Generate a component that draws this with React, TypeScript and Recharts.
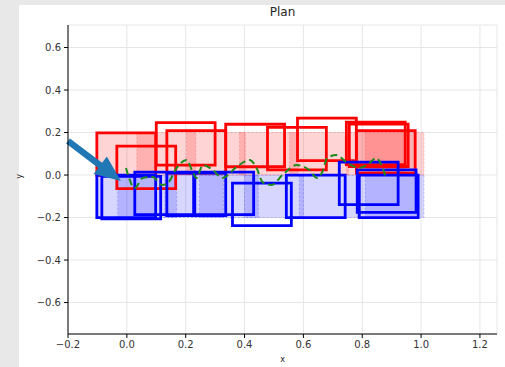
import React from "react";
import {
  CartesianGrid,
  ComposedChart,
  Line,
  ReferenceArea,
  ReferenceLine,
  XAxis,
  YAxis,
} from "recharts";

// lower-left corners of the 0.2 x 0.2 plan boxes
const redBoxX = [-0.102, -0.034, 0.1, 0.136, 0.336, 0.478, 0.58, 0.746, 0.756, 0.78];
const redBoxY = [-0.002, -0.064, 0.047, 0.009, 0.039, 0.024, 0.068, 0.049, 0.04, 0.009];
const blueBoxX = [-0.102, -0.085, 0.027, 0.136, 0.231, 0.359, 0.542, 0.722, 0.783, 0.79];
const blueBoxY = [-0.2, -0.206, -0.186, -0.191, -0.186, -0.238, -0.2, -0.139, -0.176, -0.2];

// translucent reference boxes sitting on the y = 0 line
const redFillX = [-0.102, 0.034, 0.203, 0.383, 0.553, 0.746, 0.78, 0.81];
const blueFillX = [-0.102, -0.031, 0.129, 0.247, 0.4, 0.586, 0.783, 0.81];
const boxSize = 0.2;

// measured trajectory
const pathX = [
  -0.003, 0.027, 0.054, 0.088, 0.119, 0.139, 0.169, 0.203, 0.224, 0.237, 0.258, 0.292, 0.325,
  0.373, 0.417, 0.441, 0.461, 0.492, 0.529, 0.576, 0.62, 0.647, 0.664, 0.681, 0.712, 0.746, 0.79,
  0.824, 0.847, 0.868, 0.881,
];
const pathY = [
  0.033, -0.061, -0.014, -0.009, -0.047, -0.038, 0.033, 0.071, 0.014, -0.014, 0.047, 0.024, -0.014,
  0.038, 0.071, 0.033, -0.033, -0.047, 0, 0.047, 0.024, -0.014, 0.014, 0.08, 0.094, 0.061, 0.033,
  0.056, 0.08, 0.038, -0.014,
];

const arrowFrom = { x: -0.2, y: 0.16 };
const arrowTo = { x: -0.02, y: -0.028 };

const xTicks = [-0.2, 0, 0.2, 0.4, 0.6, 0.8, 1.0, 1.2];
const yTicks = [-0.6, -0.4, -0.2, 0, 0.2, 0.4, 0.6];

const fmt = (v: number) => (v < 0 ? "\u2212" + Math.abs(v).toFixed(1) : v.toFixed(1));

const path = pathX.map((x, i) => ({ x, y: pathY[i] }));

function Arrow(props: any) {
  const { x1, y1, x2, y2 } = props;
  const dx = x2 - x1;
  const dy = y2 - y1;
  const len = Math.sqrt(dx * dx + dy * dy);
  const ux = dx / len;
  const uy = dy / len;
  const nx = -uy;
  const ny = ux;
  const shaft = 3.2;
  const head = 11;
  const headLen = 26;
  const bx = x2 - ux * headLen;
  const by = y2 - uy * headLen;
  const pts = [
    [x1 + nx * shaft, y1 + ny * shaft],
    [bx + nx * shaft, by + ny * shaft],
    [bx + nx * head, by + ny * head],
    [x2, y2],
    [bx - nx * head, by - ny * head],
    [bx - nx * shaft, by - ny * shaft],
    [x1 - nx * shaft, y1 - ny * shaft],
  ];
  return <polygon points={pts.map((p) => p.join(",")).join(" ")} fill="#1f77b4" />;
}

const tickStyle = { fontSize: 10, fill: "#333", fontFamily: "DejaVu Sans" };

export default function App() {
  return (
    <div
      style={{
        position: "absolute",
        left: 0,
        top: 0,
        width: 505,
        height: 367,
        background: "#e8e8e8",
        fontFamily: "DejaVu Sans",
      }}
    >
      <div
        style={{ position: "absolute", left: 19, top: 5, width: 486, height: 362, background: "#fff" }}
      />
      <div style={{ position: "absolute", left: 0, top: 0 }}>
        <ComposedChart
          width={505}
          height={367}
          data={path}
          margin={{ top: 25, right: 8, bottom: 13, left: 28 }}
        >
          <CartesianGrid stroke="#e6e6e6" strokeWidth={1} />
          <XAxis
            dataKey="x"
            type="number"
            domain={[-0.2, 1.258]}
            ticks={xTicks}
            tickFormatter={fmt}
            tick={tickStyle}
            tickSize={4}
            tickMargin={3}
            height={20}
            stroke="#000"
            allowDataOverflow
          />
          <XAxis
            xAxisId="top"
            orientation="top"
            type="number"
            domain={[-0.2, 1.258]}
            tick={false}
            tickLine={false}
            height={0}
            stroke="#555"
          />
          <YAxis
            type="number"
            domain={[-0.748, 0.706]}
            ticks={yTicks}
            tickFormatter={fmt}
            tick={tickStyle}
            tickSize={4}
            tickMargin={3}
            width={40}
            stroke="#000"
            allowDataOverflow
          />
          <YAxis
            yAxisId="right"
            orientation="right"
            type="number"
            domain={[-0.748, 0.706]}
            tick={false}
            tickLine={false}
            width={0}
            stroke="#444"
            strokeWidth={1.5}
          />
          {redFillX.map((x, i) => (
            <ReferenceArea
              key={"rf" + i}
              x1={x}
              x2={x + boxSize}
              y1={0}
              y2={boxSize}
              fill="#ff0000"
              fillOpacity={0.17}
              stroke="#ff0000"
              strokeOpacity={0.2}
              strokeDasharray="2 2"
            />
          ))}
          {blueFillX.map((x, i) => (
            <ReferenceArea
              key={"bf" + i}
              x1={x}
              x2={x + boxSize}
              y1={-boxSize}
              y2={0}
              fill="#0000ff"
              fillOpacity={0.16}
              stroke="#0000ff"
              strokeOpacity={0.2}
              strokeDasharray="2 2"
            />
          ))}
          {redBoxX.map((x, i) => (
            <ReferenceArea
              key={"rb" + i}
              x1={x}
              x2={x + boxSize}
              y1={redBoxY[i]}
              y2={redBoxY[i] + boxSize}
              fill="none"
              fillOpacity={0}
              stroke="#ff0000"
              strokeWidth={2.8}
            />
          ))}
          {blueBoxX.map((x, i) => (
            <ReferenceArea
              key={"bb" + i}
              x1={x}
              x2={x + boxSize}
              y1={blueBoxY[i]}
              y2={blueBoxY[i] + boxSize}
              fill="none"
              fillOpacity={0}
              stroke="#0000ff"
              strokeWidth={2.8}
            />
          ))}
          <Line
            dataKey="y"
            type="monotone"
            stroke="#1e8a1e"
            strokeWidth={2}
            strokeDasharray="7 4"
            dot={false}
            isAnimationActive={false}
          />
          <ReferenceLine
            segment={[arrowFrom, arrowTo]}
            ifOverflow="visible"
            shape={(p: any) => <Arrow {...p} />}
          />
        </ComposedChart>
      </div>
      <div style={{ position: "absolute", left: 0, width: 565, top: 5, textAlign: "center", fontSize: 12, color: "#222" }}>
        Plan
      </div>
      <div style={{ position: "absolute", left: 0, width: 565, top: 355, textAlign: "center", fontSize: 8, color: "#222" }}>
        x
      </div>
      <div
        style={{
          position: "absolute",
          left: 17,
          top: 172,
          fontSize: 8,
          color: "#222",
          transform: "rotate(-90deg)",
        }}
      >
        y
      </div>
    </div>
  );
}
